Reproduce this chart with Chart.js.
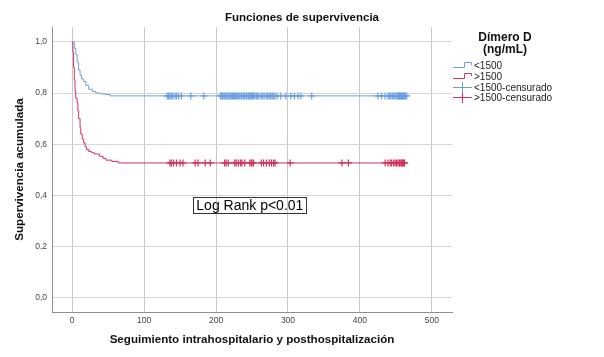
<!DOCTYPE html>
<html>
<head>
<meta charset="utf-8">
<script src="https://cdn.jsdelivr.net/npm/chart.js@4"></script>
<style>
  body { margin: 0; background: #fff; }
</style>
</head>
<body>
<canvas id="kmChart" width="604" height="357"></canvas>
<script>
var chartTitle = 'Funciones de supervivencia';
var xTitle = 'Seguimiento intrahospitalario y posthospitalización';
var yTitle = 'Supervivencia acumulada';
var legendTitle = ['Dímero D', '(ng/mL)'];
var seriesNames = ['<1500', '>1500', '<1500-censurado', '>1500-censurado'];
var xTickValues = [0, 100, 200, 300, 400, 500];
var yTickValues = [0, 0.2, 0.4, 0.6, 0.8, 1.0];
var logRankText = 'Log Rank p<0.01';

// Kaplan-Meier steps, D-dimer < 1500
var lowTimes = [0, 3, 5, 7, 9, 11, 13, 16, 19, 23, 28, 33, 40, 46, 53];
var lowSurv = [1.0, 0.975, 0.95, 0.92, 0.89, 0.87, 0.855, 0.845, 0.83, 0.815, 0.806, 0.80, 0.797, 0.794, 0.789];

// Kaplan-Meier steps, D-dimer > 1500
var highTimes = [0, 1, 2, 3, 4, 5, 7, 8, 9, 11, 12, 14, 16, 18, 20, 23, 27, 31, 38, 43, 47, 55, 64];
var highSurv = [1.0, 0.96, 0.90, 0.85, 0.81, 0.78, 0.76, 0.73, 0.70, 0.665, 0.64, 0.62, 0.605, 0.59, 0.58, 0.572, 0.567, 0.562, 0.553, 0.545, 0.538, 0.533, 0.527];

// censored observations (days)
var lowCensored = [132, 134, 136, 138, 140, 143, 145, 148, 152, 165, 183,
    206, 208, 209, 211, 212, 214, 215, 217, 218, 220, 221, 223, 224, 226, 227, 229, 230, 232, 233, 235, 236, 238, 240,
    242, 243, 245, 246, 248, 249, 251, 252, 254, 256, 258, 260, 263, 265, 267, 270, 272, 274, 276, 278, 280, 282, 285,
    290, 297, 304, 309, 314, 318, 333,
    425, 430, 435, 439, 441, 443, 445, 447, 449, 450, 452, 453, 454, 455, 456, 457, 458, 459, 460, 461, 462, 463, 465];
var highCensored = [136, 138, 141, 145, 150, 154, 171, 175, 185, 192, 212, 214, 217, 226, 228, 231, 234, 236, 240,
    247, 249, 250, 252, 263, 266, 270, 274, 277, 280, 282, 303, 375, 384,
    435, 439, 442, 444, 447, 449, 451, 453, 455, 456, 458, 459, 460, 461, 462];

var blue = '#6c9fe0';
var red = '#d2325c';

function survivalAt(times, surv, t) {
    var s = surv[0];
    for (var i = 0; i < times.length; i++) {
        if (times[i] <= t) s = surv[i];
    }
    return s;
}

function stepPoints(times, surv, censored) {
    var pts = times.map(function (t, i) { return { x: t, y: surv[i] }; });
    pts.push({ x: Math.max.apply(null, censored), y: surv[surv.length - 1] });
    return pts;
}

function censorPoints(times, surv, censored) {
    return censored.map(function (t) { return { x: t, y: survivalAt(times, surv, t) }; });
}

var decorPlugin = {
    id: 'decor',
    afterDraw: function (chart) {
        var ctx = chart.ctx;
        ctx.save();
        // main title
        ctx.fillStyle = '#111';
        ctx.font = 'bold 11.5px "Liberation Sans"';
        ctx.textAlign = 'center';
        ctx.textBaseline = 'middle';
        ctx.fillText(chartTitle, 302, 18);

        // legend
        ctx.font = 'bold 12px "Liberation Sans"';
        ctx.fillText(legendTitle[0], 505, 38);
        ctx.fillText(legendTitle[1], 505, 50);
        var rows = [65, 76, 87, 97];
        var cols = [blue, red, blue, red];
        ctx.font = '10px "Liberation Sans"';
        ctx.textAlign = 'left';
        rows.forEach(function (ry, i) {
            ctx.strokeStyle = cols[i];
            ctx.lineWidth = 1;
            ctx.beginPath();
            if (i < 2) {
                ctx.moveTo(453, ry + 2.5);
                ctx.lineTo(464.5, ry + 2.5);
                ctx.lineTo(464.5, ry - 2.5);
                ctx.lineTo(471.5, ry - 2.5);
                ctx.lineTo(471.5, ry);
            } else {
                ctx.moveTo(453, ry + 0.5);
                ctx.lineTo(472, ry + 0.5);
                ctx.moveTo(462.5, ry - 5);
                ctx.lineTo(462.5, ry + 6);
            }
            ctx.stroke();
            ctx.fillStyle = '#222';
            ctx.fillText(seriesNames[i], 474, ry + 1);
        });

        // log rank box
        var xs = chart.scales.x, ys = chart.scales.y;
        var cx = xs.getPixelForValue(247), cy = ys.getPixelForValue(0.363);
        ctx.font = '14px "Liberation Sans"';
        var tw = ctx.measureText(logRankText).width;
        ctx.strokeStyle = '#333';
        ctx.lineWidth = 1;
        ctx.strokeRect(Math.round(cx - tw / 2 - 3) + 0.5, Math.round(cy - 8) + 0.5, Math.round(tw + 6), 16);
        ctx.fillStyle = '#000';
        ctx.textAlign = 'center';
        ctx.fillText(logRankText, cx, cy + 1);
        ctx.restore();
    }
};

var ctx = document.getElementById('kmChart').getContext('2d');
var chart = new Chart(ctx, {
    type: 'line',
    data: {
        datasets: [
            {
                label: seriesNames[0],
                data: stepPoints(lowTimes, lowSurv, lowCensored),
                borderColor: blue, borderWidth: 1, stepped: true, pointRadius: 0, fill: false
            },
            {
                label: seriesNames[1],
                data: stepPoints(highTimes, highSurv, highCensored),
                borderColor: red, borderWidth: 1, stepped: true, pointRadius: 0, fill: false
            },
            {
                label: seriesNames[2],
                data: censorPoints(lowTimes, lowSurv, lowCensored),
                showLine: false, pointStyle: 'cross', pointRadius: 3.5, pointBorderWidth: 1.2,
                borderColor: blue, backgroundColor: blue
            },
            {
                label: seriesNames[3],
                data: censorPoints(highTimes, highSurv, highCensored),
                showLine: false, pointStyle: 'cross', pointRadius: 3.5, pointBorderWidth: 1.2,
                borderColor: red, backgroundColor: red
            }
        ]
    },
    options: {
        responsive: false,
        animation: false,
        layout: { padding: { top: 27, right: 152, left: 0, bottom: 0 } },
        plugins: {
            legend: { display: false },
            tooltip: { enabled: false },
            title: { display: false }
        },
        scales: {
            x: {
                type: 'linear',
                min: -28,
                max: 528,
                afterBuildTicks: function (scale) {
                    scale.ticks = xTickValues.map(function (v) { return { value: v }; });
                },
                afterFit: function (scale) { scale.height = 45; },
                grid: { color: '#c8c8c8', drawTicks: false },
                border: { color: '#8f8f8f', width: 1 },
                ticks: { font: { family: 'Liberation Sans', size: 8.5 }, color: '#444', padding: 4, maxRotation: 0 },
                title: {
                    display: true, text: xTitle, color: '#111',
                    font: { family: 'Liberation Sans', size: 11.6, weight: 'bold' },
                    padding: { top: 0, bottom: 10 }
                }
            },
            y: {
                type: 'linear',
                min: -0.055,
                max: 1.058,
                afterBuildTicks: function (scale) {
                    scale.ticks = yTickValues.map(function (v) { return { value: v }; });
                },
                afterFit: function (scale) { scale.width = 52; },
                grid: { color: '#d6d6d6', drawTicks: false },
                border: { color: '#8f8f8f', width: 1 },
                ticks: {
                    font: { family: 'Liberation Sans', size: 8.5 }, color: '#444', padding: 5,
                    callback: function (v) { return v.toFixed(1).replace('.', ','); }
                },
                title: {
                    display: true, text: yTitle, color: '#111',
                    font: { family: 'Liberation Sans', size: 11.6, weight: 'bold' },
                    padding: { top: 13, bottom: 0 }
                }
            }
        }
    },
    plugins: [decorPlugin]
});
</script>
</body>
</html>
